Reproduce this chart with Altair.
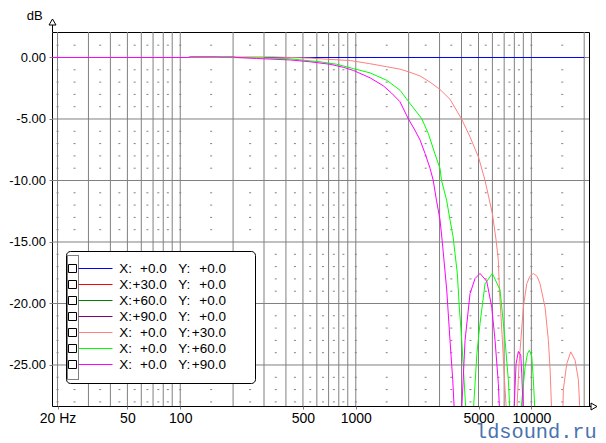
import altair as alt
import pandas as pd

FONT = "Liberation Sans"
GRAY = "#808080"

# ---------------- axes / grid values ----------------
x_domain = [18.6, 21300]
y_domain = [-28.334, 2.073]
x_label_vals = [20, 50, 100, 500, 1000, 5000, 10000]
y_label_vals = [0, -5, -10, -15, -20, -25]
x_grid_vals = [20, 30, 40, 50, 60, 70, 80, 90,
               100, 200, 300, 400, 500, 600, 700, 800, 900,
               1000, 2000, 3000, 4000, 5000, 6000, 7000, 8000, 9000,
               10000, 20000]
y_grid_vals = [-5, -10, -15, -20, -25]
zero_grid_f = [20000, 21300]
zero_grid_db = [0, 0]
minor_freqs = [20, 25, 35, 45, 55, 65, 75, 85, 100, 150, 250, 350, 450, 550, 650,
               750, 850, 1000, 1500, 2500, 3500, 4500, 5500, 6500, 7500, 8500,
               10000, 15000]
minor_db = [1, -1, -2, -3, -4, -6, -7, -8, -9, -11, -12, -13, -14, -16, -17, -18,
            -19, -21, -22, -23, -24, -26, -27, -28]

# ---------------- series ----------------
# on-axis curve: flat 0 dB (visible where the off-axis curves fall away)
x0y0_f = [300, 20000]
x0y0_db = [0, 0]

y30_f = [15, 115, 250, 330, 420, 550, 700, 930, 1200, 1500, 1786, 2036, 2322, 2647,
         3018, 3441, 3991, 4474, 5000, 5448, 6000, 6300, 6486, 6580, 6840, 7030,
         7230, 7700, 8250, 8500, 9004, 9416, 9800, 10266, 10800, 11209, 11967,
         12502, 12800, 13069, 14000, 15100, 15215, 15910, 16768, 17740, 18530,
         18948, 20000]
y30_db = [0, 0, 0.05, 0.05, 0, -0.05, -0.15, -0.25, -0.5, -0.75, -0.95, -1.2, -1.5,
          -2.0, -2.6, -3.4, -4.96, -6.45, -8.1, -10.0, -12.7, -14.85, -16.5, -18.9,
          -23.0, -26.2, -29, -40, -29, -25, -20.3, -18.4, -17.8, -17.56, -17.8,
          -18.4, -20.3, -23.0, -25.5, -29, -40, -29, -27, -24.9, -23.93, -24.6,
          -26.2, -29, -40]

y60_f = [15, 110, 115, 160, 170, 300, 420, 502, 625, 778, 968, 1205, 1500, 1786,
         2036, 2372, 2589, 2818, 3018, 3078, 3291, 3441, 3583, 3787, 3888, 4013,
         4136, 4250, 4450, 4680, 4900, 5103, 5448, 5995, 6633, 7083, 7395, 7560,
         8050, 8700, 8815, 9207, 9492, 9741, 10053, 10266, 10498, 11000]
y60_db = [0, 0, 0.05, 0.05, 0, -0.03, -0.1, -0.22, -0.35, -0.55, -0.9, -1.25, -1.85,
          -2.66, -3.74, -4.96, -6.18, -7.8, -9.02, -9.98, -11.6, -13.2, -14.58,
          -17.56, -20.3, -23.0, -26.2, -29, -40, -28.6, -24.0, -21.6, -18.4, -17.56,
          -18.9, -23.0, -26.2, -29, -40, -29, -28.0, -25.2, -24.1, -23.8, -24.3,
          -26.2, -29, -40]

y90_f = [15, 110, 115, 200, 210, 272, 423, 549, 713, 850, 968, 1205, 1434, 1600,
         1786, 1987, 2170, 2322, 2479, 2647, 2760, 2880, 3018, 3103, 3296, 3441,
         3566, 3650, 3820, 4000, 4191, 4474, 4778, 5103, 5572, 5948, 6213, 6486,
         6600, 7000, 7950, 8183, 8432, 8702, 8815, 9004, 9500]
y90_db = [0, 0, 0.05, 0.05, 0, -0.08, -0.2, -0.35, -0.55, -0.8, -1.05, -1.65, -2.3,
          -2.9, -3.6, -4.96, -5.9, -6.7, -7.8, -9.0, -9.98, -11.6, -13.2, -14.85,
          -18.9, -23.0, -26.2, -29, -40, -29, -23.0, -19.2, -17.97, -17.56, -18.2,
          -20.3, -23.0, -26.5, -29, -40, -29, -24.9, -23.9, -24.2, -25.7, -29, -40]

# legend content
legend_rows = ["r1", "r2", "r3", "r4", "r5", "r6", "r7"]
legend_x = ["+0.0", "+30.0", "+60.0", "+90.0", "+0.0", "+0.0", "+0.0"]
legend_y = ["+0.0", "+0.0", "+0.0", "+0.0", "+30.0", "+60.0", "+90.0"]
legend_colors = ["#0000ff", "#ff0000", "#008000", "#800080", "#ff8080", "#00ff00", "#ff00ff"]

# ---------------- scales / axes ----------------
xs = alt.Scale(type="log", domain=x_domain, nice=False)
ys = alt.Scale(domain=y_domain, nice=False, zero=False)
x_axis = alt.Axis(values=x_label_vals,
                  labelExpr="datum.value == 20 ? '20 Hz' : format(datum.value, 'd')",
                  grid=False, domain=False, ticks=True, tickSize=3, tickColor=GRAY,
                  labelPadding=2, labelFont=FONT, labelFontSize=14, labelColor="black",
                  labelFlush=False, labelOverlap=False, title=None)
y_axis = alt.Axis(values=y_label_vals,
                  labelExpr="(datum.value < 0 ? '-' : '') + format(abs(datum.value), '.2f')",
                  grid=False, domain=False, ticks=True, tickSize=3, tickColor=GRAY,
                  labelPadding=3.5, labelFont=FONT, labelFontSize=13, labelColor="black",
                  labelFlush=False, labelOverlap=False, title=None)


def X(field):
    return alt.X(f"{field}:Q", scale=xs, axis=x_axis)


def Y(field):
    return alt.Y(f"{field}:Q", scale=ys, axis=y_axis)


one = pd.DataFrame({"a": [0]})

vgrid = alt.Chart(pd.DataFrame({"gx": x_grid_vals})).mark_rule(
    color=GRAY, strokeWidth=1).encode(x=X("gx"))
hgrid = alt.Chart(pd.DataFrame({"gy": y_grid_vals})).mark_rule(
    color=GRAY, strokeWidth=1).encode(y=Y("gy"))
zgrid = alt.Chart(pd.DataFrame({"zf": zero_grid_f, "zd": zero_grid_db})).mark_line(
    color=GRAY, strokeWidth=1, clip=True).encode(x=X("zf"), y=Y("zd"))

minor = pd.DataFrame([(f, d) for d in minor_db for f in minor_freqs], columns=["mf", "md"])
dashes = alt.Chart(minor).mark_point(
    shape="M-1,0L1,0", size=4, filled=False, stroke=GRAY, strokeWidth=1, opacity=1
).encode(x=X("mf"), y=Y("md"))


def curve(f, db, color):
    df = pd.DataFrame({"f": f, "db": db})
    return alt.Chart(df).mark_line(color=color, strokeWidth=1, clip=True).encode(
        x=X("f"), y=Y("db"))


curves = [
    curve(x0y0_f, x0y0_db, legend_colors[0]),
    curve(y30_f, y30_db, legend_colors[4]),
    curve(y60_f, y60_db, legend_colors[5]),
    curve(y90_f, y90_db, legend_colors[6]),
]

# axis extensions and arrows
yext = alt.Chart(one).mark_rule(color="black", strokeWidth=1).encode(
    x=alt.value(0.5), y=alt.value(-7), y2=alt.value(0))
xext = alt.Chart(one).mark_rule(color="black", strokeWidth=1).encode(
    x=alt.value(537), x2=alt.value(539), y=alt.value(374.5))
up_arrow = alt.Chart(one).mark_point(
    shape="M0,-0.75L0.875,0.75L-0.875,0.75Z", size=64, filled=False,
    stroke="black", strokeWidth=1, opacity=1).encode(x=alt.value(0.5), y=alt.value(-10))
right_arrow = alt.Chart(one).mark_point(
    shape="M0.75,0L-0.75,0.875L-0.75,-0.875Z", size=64, filled=False,
    stroke="black", strokeWidth=1, opacity=1).encode(x=alt.value(542), y=alt.value(374.5))

db_title = alt.Chart(one).mark_text(
    text="dB", font=FONT, fontSize=13, color="black", align="center", baseline="alphabetic"
).encode(x=alt.value(-17.3), y=alt.value(-12.5))
watermark = alt.Chart(one).mark_text(
    text="ldsound.ru", font="Liberation Mono", fontSize=20.3, color="#4a72b0",
    align="left", baseline="alphabetic"
).encode(x=alt.value(423), y=alt.value(406))

main = alt.layer(vgrid, hgrid, zgrid, dashes, *curves, yext, xext, up_arrow, right_arrow,
                 db_title, watermark)

# ---------------- legend ----------------
leg = pd.DataFrame({"row": legend_rows, "color": legend_colors,
                    "xv": legend_x, "yv": legend_y})
ly = alt.Y("row:N", scale=alt.Scale(type="point", domain=legend_rows,
                                    range=[236.5, 332.5], padding=0), axis=None)

box = alt.Chart(one).mark_rect(fill="white", stroke="black", strokeWidth=1,
                               cornerRadius=4).encode(
    x=alt.value(14.5), x2=alt.value(203.5), y=alt.value(219.5), y2=alt.value(351.5))
focus = alt.Chart(one).mark_rect(fillOpacity=0, stroke="black", strokeWidth=1,
                                 strokeDash=[1, 1]).encode(
    x=alt.value(15.5), x2=alt.value(26.5), y=alt.value(223.5), y2=alt.value(347.5))
checks = alt.Chart(leg).mark_point(shape="square", size=64, filled=False,
                                   stroke="black", strokeWidth=1, opacity=1).encode(
    x=alt.value(20.5), y=ly)
samples = alt.Chart(leg).mark_rule(strokeWidth=1).encode(
    x=alt.value(26.5), x2=alt.value(60.5), y=ly, color=alt.Color("color:N", scale=None))
tx = alt.Chart(leg).mark_text(text="X:", align="left", baseline="middle", font=FONT,
                              fontSize=13.5, color="black").encode(x=alt.value(67.3), y=ly)
txv = alt.Chart(leg).mark_text(align="right", baseline="middle", font=FONT,
                               fontSize=13.5, color="black").encode(
    x=alt.value(114.7), y=ly, text="xv:N")
ty = alt.Chart(leg).mark_text(text="Y:", align="left", baseline="middle", font=FONT,
                              fontSize=13.5, color="black").encode(x=alt.value(126.3), y=ly)
tyv = alt.Chart(leg).mark_text(align="right", baseline="middle", font=FONT,
                               fontSize=13.5, color="black").encode(
    x=alt.value(174), y=ly, text="yv:N")

legend = alt.layer(box, focus, checks, samples, tx, txv, ty, tyv)

chart = alt.layer(main, legend).resolve_scale(y="independent").properties(
    width=537, height=374,
    padding={"left": 44, "top": 24, "right": 9, "bottom": 37},
    autosize=alt.AutoSizeParams(type="none"),
    background="white",
).configure_view(stroke="black", strokeWidth=1)

chart.save("out.html", embed_options={"renderer": "svg", "actions": False})
